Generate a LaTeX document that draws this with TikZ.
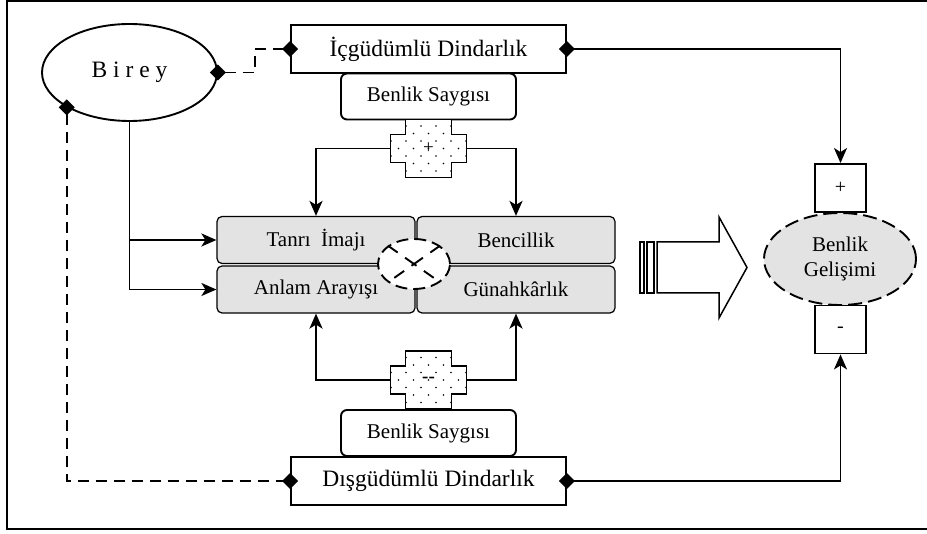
\documentclass[tikz,border=0pt]{standalone}
\usepackage{fontspec}
\setmainfont{Liberation Serif}
\usetikzlibrary{arrows.meta,shapes.geometric}

\newcommand{\bigtext}{\fontsize{23.5}{27}\selectfont}
\newcommand{\smalltext}{\fontsize{21}{25}\selectfont}

\begin{document}
\begin{tikzpicture}
[x=1pt,y=-1pt,
  lineDecorate/.style={line width=1.9pt},
  dashDecorate/.style={line width=1.9pt,dash pattern=on 11pt off 7pt},
  arrowDecorate/.style={line width=1.9pt,-{Stealth[length=15pt,width=13pt,inset=4pt]}},
  tipDecorate/.style={{Diamond[length=16pt,width=16pt]}-{Diamond[length=16pt,width=16pt]},
    shorten <=-8pt,shorten >=-8pt},
  tipArrowDecorate/.style={line width=1.9pt,
    {Diamond[length=16pt,width=16pt]}-{Stealth[length=15pt,width=13pt,inset=4pt]},
    shorten <=-8pt},
  boxDecorate/.style={draw,line width=1.9pt,minimum width=275pt,minimum height=48pt,
    inner sep=0pt,font=\bigtext},
  selfDecorate/.style={draw,line width=1.9pt,rounded corners=6pt,minimum width=175pt,
    minimum height=46pt,inner sep=0pt,font=\smalltext},
  themeDecorate/.style={draw,line width=1.2pt,rounded corners=5pt,fill=gray!22,
    minimum width=198pt,minimum height=47pt,inner sep=0pt,font=\smalltext},
  signDecorate/.style={draw,line width=1.9pt,minimum width=51pt,minimum height=48pt,
    inner sep=0pt,font=\fontsize{20}{24}\selectfont},
  crossDecorate/.style={minimum width=76pt,minimum height=29pt,inner sep=0pt,
    font=\fontsize{19}{22}\selectfont}]
\useasboundingbox (0,0) rectangle (927,534);
%% frame
\draw[lineDecorate] (927,1) -- (7,1) -- (7,529) -- (927,529);

%% nodes
\node (birey) at (129.5,72.5) [ellipse,draw,line width=1.9pt,minimum width=175pt,
  minimum height=97pt,font=\bigtext] {B i r e y};
\node (ic) at (428.5,49) [boxDecorate] {İçgüdümlü Dindarlık};
\node (dis) at (428.5,481) [boxDecorate] {Dışgüdümlü Dindarlık};
\node (saygiA) at (428.5,96.5) [selfDecorate] {Benlik Saygısı};
\node (saygiB) at (428.5,433) [selfDecorate] {Benlik Saygısı};

\foreach \nodename/\x/\y/\txt in {
  tanri/316/240/{Tanrı~ İmajı}, bencil/516/240/Bencillik,
  anlam/316/289.5/{Anlam Arayışı}, gunah/516/289.5/Günahkârlık}
{
  \node (\nodename) at (\x,\y) [themeDecorate] {\txt};
}
\node (xnode) at (414,264) [ellipse,draw,fill=white,line width=1.9pt,
  dash pattern=on 12pt off 6pt,minimum width=72pt,minimum height=50pt] {};
\draw[line width=1.9pt,dash pattern=on 12pt off 9pt on 14pt off 9pt on 12pt]
  (xnode.north west) -- (xnode.south east);
\draw[line width=1.9pt,dash pattern=on 12pt off 9pt on 14pt off 9pt on 12pt]
  (xnode.north east) -- (xnode.south west);

%% dotted crosses
\foreach \cy/\nodename/\sign in {148.5/pcross/+, 380/mcross/\textbf{-{}-}}
{
  \begin{scope}[shift={(428.5,\cy)}]
    \begin{scope}
      \clip (-23,-29) -- (23,-29) -- (23,-14) -- (38,-14) -- (38,14) -- (23,14)
        -- (23,29) -- (-23,29) -- (-23,14) -- (-38,14) -- (-38,-14) -- (-23,-14) -- cycle;
      \fill[white] (-40,-30) rectangle (40,30);
      \foreach \j in {-4,...,4}
        \foreach \i in {-3,...,3}
          \fill ({\i*15+mod(\j+4,2)*7.5},{\j*7.5}) circle (0.8pt);
    \end{scope}
    \draw[lineDecorate] (-23,-29) -- (23,-29) -- (23,-14) -- (38,-14) -- (38,14) -- (23,14)
      -- (23,29) -- (-23,29) -- (-23,14) -- (-38,14) -- (-38,-14) -- (-23,-14) -- cycle;
  \end{scope}
  \node (\nodename) at (428.5,\cy) [crossDecorate] {\sign};
}

%% outcome
\node (gelisim) at (840,259) [ellipse,draw,fill=gray!22,line width=1.9pt,
  dash pattern=on 14pt off 6pt,minimum width=152pt,minimum height=92pt,
  align=center,font=\smalltext] {Benlik\\Gelişimi};
\node (plus) at (840.5,188) [signDecorate] {+};
\node (minus) at (840.5,329.5) [signDecorate] {-};

%% block arrow
\draw[line width=1.5pt] (657,242) -- (719,242) -- (719,217) -- (747,267.5)
  -- (719,318) -- (719,293) -- (657,293) -- cycle;
\draw[line width=1.5pt] (640,242) rectangle (644,293);
\draw[line width=1.5pt] (647,242) rectangle (654,293);

%% edges or lines
\draw[dashDecorate,tipDecorate] (birey.east) -- ++(37,0) |- (ic.west);
\draw[dashDecorate,tipDecorate] (birey.209) |- (dis.west);
\draw[arrowDecorate] (birey.south) |- (tanri.west);
\draw[arrowDecorate] (birey.south) |- (anlam.west);
\draw[arrowDecorate] (pcross.west) -| (tanri.north);
\draw[arrowDecorate] (pcross.east) -| (bencil.north);
\draw[arrowDecorate] (mcross.west) -| (anlam.south);
\draw[arrowDecorate] (mcross.east) -| (gunah.south);
\draw[tipArrowDecorate] (ic.east) -| (plus.north);
\draw[tipArrowDecorate] (dis.east) -| (minus.south);
\end{tikzpicture}
\end{document}
